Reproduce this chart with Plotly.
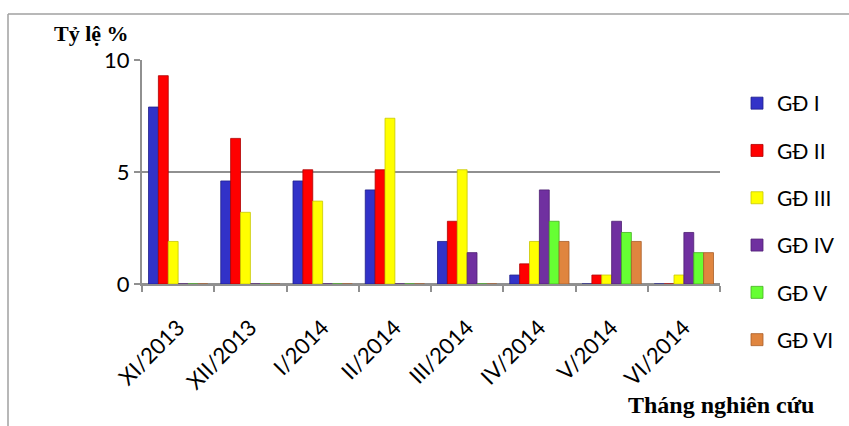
import plotly.graph_objects as go

# Research months (x categories)
months = ["XI/2013", "XII/2013", "I/2014", "II/2014",
          "III/2014", "IV/2014", "V/2014", "VI/2014"]

# Rate (%) per developmental stage
gd_1 = [7.9, 4.6, 4.6, 4.2, 1.9, 0.4, 0.0, 0.0]
gd_2 = [9.3, 6.5, 5.1, 5.1, 2.8, 0.9, 0.4, 0.0]
gd_3 = [1.9, 3.2, 3.7, 7.4, 5.1, 1.9, 0.4, 0.4]
gd_4 = [0.0, 0.0, 0.0, 0.0, 1.4, 4.2, 2.8, 2.3]
gd_5 = [0.0, 0.0, 0.0, 0.0, 0.0, 2.8, 2.3, 1.4]
gd_6 = [0.0, 0.0, 0.0, 0.0, 0.0, 1.9, 1.9, 1.4]

series_names = ["GĐ I", "GĐ II", "GĐ III", "GĐ IV", "GĐ V", "GĐ VI"]
series_values = [gd_1, gd_2, gd_3, gd_4, gd_5, gd_6]
colors = ["#3232C8", "#FF0000", "#FFFF00", "#7030A0", "#66FF33", "#E0853F"]
edges = ["#20208A", "#B00000", "#C8C800", "#4E1F72", "#44B020", "#A85E28"]

W, H = 849, 426
L, R, T, B = 142, 129, 60, 142
pw, ph = W - L - R, H - T - B


def px_x(p):
    return (p - L) / pw


def px_y(p):
    return (H - B - p) / ph


fig = go.Figure()
for i, (name, vals) in enumerate(zip(series_names, series_values)):
    fig.add_trace(go.Bar(
        x=months, y=vals, name=name,
        marker=dict(color=colors[i], line=dict(color=edges[i], width=0.8)),
        legendgroup=name,
    ))

# outer frame of the chart area
frame = dict(type="line", xref="paper", yref="paper",
             line=dict(color="#A0A0A0", width=1.5), layer="below")
fig.add_shape(x0=px_x(8), x1=px_x(W + 5), y0=px_y(14), y1=px_y(14), **frame)
fig.add_shape(x0=px_x(8), x1=px_x(8), y0=px_y(14), y1=px_y(H + 5), **frame)

fig.add_annotation(text="<b>Tỷ lệ %</b>", xref="paper", yref="paper",
                   x=px_x(52), y=px_y(34), xanchor="left", yanchor="middle",
                   showarrow=False,
                   font=dict(family="Liberation Serif", size=22, color="black"))
fig.add_annotation(text="<b>Tháng nghiên cứu</b>", xref="paper", yref="paper",
                   x=px_x(626), y=px_y(405), xanchor="left", yanchor="middle",
                   showarrow=False,
                   font=dict(family="Liberation Serif", size=24, color="black"))

fig.update_layout(
    width=W, height=H,
    margin=dict(l=L, r=R, t=T, b=B, autoexpand=False),
    paper_bgcolor="white", plot_bgcolor="white",
    barmode="group", bargap=0.18, bargroupgap=0.0,
    font=dict(family="Lato", color="black"),
    showlegend=True,
    legend=dict(x=px_x(737), y=px_y(83), xanchor="left", yanchor="top",
                font=dict(family="Lato", size=21, color="black"),
                tracegroupgap=17, itemwidth=30, maxheight=400,
                bgcolor="rgba(0,0,0,0)"),
    xaxis=dict(
        type="category", tickson="boundaries", ticks="outside",
        ticklen=6, tickcolor="#909090", tickwidth=1.5,
        showline=True, linecolor="#909090", linewidth=2,
        tickangle=-45, tickfont=dict(family="Lato", size=22, color="black"),
        ticklabelstandoff=20,
        showgrid=False,
    ),
    yaxis=dict(
        range=[0, 10], tickvals=[0, 5, 10],
        showgrid=True, gridcolor="#909090", gridwidth=2,
        zeroline=True, zerolinecolor="#909090", zerolinewidth=2,
        showline=True, linecolor="#909090", linewidth=2,
        ticks="outside", ticklen=6, tickcolor="#909090", tickwidth=1.5,
        tickfont=dict(family="Lato", size=22, color="black"),
    ),
)

fig.write_html("out.html")
